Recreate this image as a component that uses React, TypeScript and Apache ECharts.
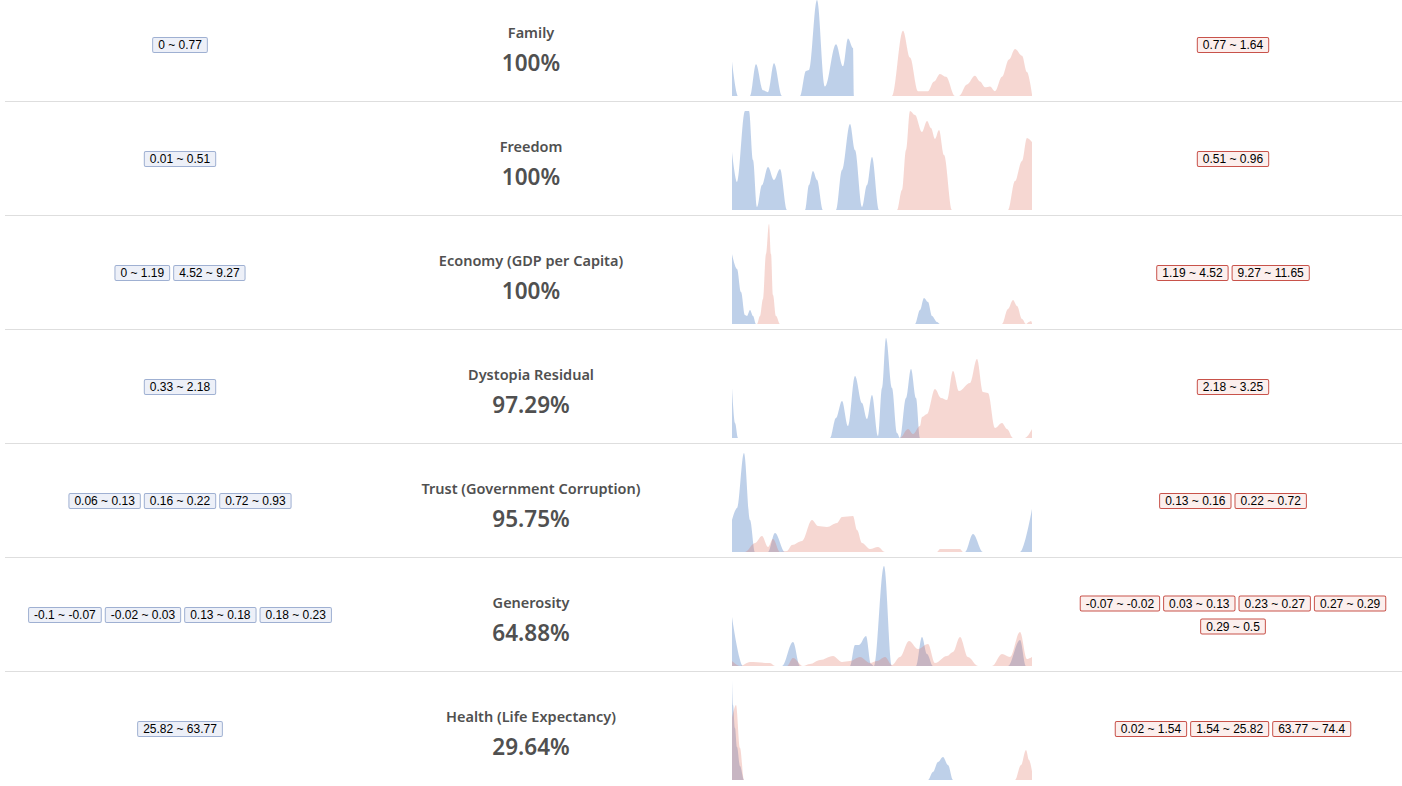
import React, { useEffect, useRef } from "react";
import * as echarts from "echarts";

// ---- data ----
const features = [
  "Family",
  "Freedom",
  "Economy (GDP per Capita)",
  "Dystopia Residual",
  "Trust (Government Corruption)",
  "Generosity",
  "Health (Life Expectancy)",
];
const percents = ["100%", "100%", "100%", "97.29%", "95.75%", "64.88%", "29.64%"];

const leftTags: string[][] = [
  ["0 ~ 0.77"],
  ["0.01 ~ 0.51"],
  ["0 ~ 1.19", "4.52 ~ 9.27"],
  ["0.33 ~ 2.18"],
  ["0.06 ~ 0.13", "0.16 ~ 0.22", "0.72 ~ 0.93"],
  ["-0.1 ~ -0.07", "-0.02 ~ 0.03", "0.13 ~ 0.18", "0.18 ~ 0.23"],
  ["25.82 ~ 63.77"],
];
const rightTags: string[][] = [
  ["0.77 ~ 1.64"],
  ["0.51 ~ 0.96"],
  ["1.19 ~ 4.52", "9.27 ~ 11.65"],
  ["2.18 ~ 3.25"],
  ["0.13 ~ 0.16", "0.22 ~ 0.72"],
  ["-0.07 ~ -0.02", "0.03 ~ 0.13", "0.23 ~ 0.27", "0.27 ~ 0.29", "0.29 ~ 0.5"],
  ["0.02 ~ 1.54", "1.54 ~ 25.82", "63.77 ~ 74.4"],
];

// density curves: [position, density]
const blueDensity: number[][][] = [
  [[0, 36], [6, 0], [18, 0], [24, 33], [31, 6], [36, 4], [42, 34], [50, 0], [68, 0], [74, 26], [77, 27], [85, 100], [93, 10], [104, 54], [111, 31], [116, 60], [121, 50], [122, 0], [300, 0]],
  [[0, 58], [5, 28], [13, 99], [17, 99], [21, 50], [25, 3], [30, 25], [36, 43], [42, 30], [48, 41], [55, 0], [73, 0], [77, 25], [81, 39], [85, 30], [91, 0], [104, 0], [110, 40], [118, 86], [123, 60], [130, 3], [135, 25], [140, 53], [147, 0], [300, 0]],
  [[0, 70], [5, 55], [9, 32], [13, 9], [15, 8], [18, 14], [21, 8], [24, 0], [183, 0], [188, 14], [192, 26], [196, 22], [200, 8], [205, 2], [208, 0], [300, 0]],
  [[0, 50], [3, 15], [6, 0], [98, 0], [104, 20], [110, 37], [116, 12], [123, 62], [130, 35], [135, 19], [140, 43], [146, 2], [150, 50], [154, 100], [160, 50], [165, 5], [168, 0], [174, 40], [179, 69], [184, 40], [188, 0], [300, 0]],
  [[0, 32], [5, 44], [12, 99], [18, 32], [23, 0], [36, 0], [43, 19], [53, 0], [233, 0], [241, 18], [251, 0], [288, 0], [300, 43]],
  [[0, 49], [11, 0], [50, 0], [61, 24], [68, 0], [118, 0], [123, 21], [127, 21], [134, 30], [139, 2], [142, 0], [152, 100], [160, 0], [184, 0], [190, 29], [195, 12], [201, 0], [276, 0], [288, 26], [294, 0], [300, 0]],
  [[0, 100], [1, 75], [3, 52], [5, 33], [8, 14], [12, 0], [196, 0], [201, 8], [206, 18], [211, 23], [216, 15], [221, 0], [300, 0]],
];
const redDensity: number[][][] = [
  [[0, 0], [160, 0], [171, 68], [178, 40], [186, 5], [196, 5], [202, 15], [208, 23], [214, 20], [223, 0], [227, 0], [235, 12], [243, 21], [248, 15], [253, 9], [258, 10], [263, 5], [270, 20], [277, 38], [283, 49], [290, 42], [295, 25], [300, 2]],
  [[0, 0], [165, 0], [170, 20], [174, 60], [178, 99], [183, 95], [190, 78], [195, 89], [199, 82], [203, 71], [207, 80], [212, 55], [220, 0], [276, 0], [283, 29], [290, 49], [295, 72], [300, 68]],
  [[0, 0], [25, 0], [28, 8], [31, 25], [34, 70], [37, 100], [39, 70], [41, 29], [44, 8], [48, 0], [270, 0], [276, 15], [281, 24], [285, 18], [290, 5], [294, 0], [297, 2], [299, 3], [300, 1]],
  [[0, 0], [168, 0], [176, 9], [181, 4], [188, 12], [190, 21], [195, 24], [203, 49], [209, 40], [215, 38], [221, 67], [227, 47], [238, 55], [245, 79], [251, 46], [256, 45], [263, 10], [270, 15], [275, 9], [281, 0], [293, 0], [300, 9]],
  [[0, 0], [13, 0], [23, 9], [30, 16], [36, 5], [41, 13], [48, 0], [55, 1], [60, 7], [70, 11], [80, 32], [86, 26], [95, 25], [105, 29], [110, 35], [121, 36], [125, 22], [130, 9], [138, 3], [146, 5], [153, 0], [205, 0], [208, 3], [228, 3], [231, 0], [300, 0]],
  [[0, 5], [8, 0], [18, 4], [38, 3], [43, 0], [55, 0], [61, 8], [71, 0], [78, 2], [88, 6], [101, 10], [110, 4], [118, 5], [128, 9], [138, 3], [145, 5], [153, 9], [160, 1], [168, 9], [177, 25], [186, 17], [196, 22], [203, 3], [215, 10], [221, 14], [228, 29], [236, 9], [246, 0], [260, 0], [270, 12], [278, 9], [288, 34], [295, 7], [300, 9]],
  [[0, 62], [4, 75], [8, 32], [12, 0], [283, 0], [289, 15], [294, 30], [297, 20], [300, 9]],
];

// ---- styles ----
const ROW_H = 114;
const TEXT_COLOR = "#505050";
const BLUE = "rgba(78,128,196,0.37)";
const RED = "rgba(222,110,95,0.28)";
const TAG_FONT = "12px 'Liberation Sans'";

function measure(text: string): number {
  const c = document.createElement("canvas").getContext("2d");
  if (!c) return text.length * 6;
  c.font = TAG_FONT;
  return c.measureText(text).width;
}

function wrapTags(tags: string[], maxW: number): string[][] {
  const lines: string[][] = [];
  let cur: string[] = [];
  let w = 0;
  tags.forEach((t) => {
    const tw = measure(t) + 12;
    const add = cur.length ? tw + 5 : tw;
    if (cur.length && w + add > maxW) {
      lines.push(cur);
      cur = [t];
      w = tw;
    } else {
      cur.push(t);
      w += add;
    }
  });
  if (cur.length) lines.push(cur);
  return lines;
}

function tagElements(tags: string[], cx: number, cy: number, red: boolean): any[] {
  const lines = wrapTags(tags, 330);
  const n = lines.length;
  return lines.map((line, li) => ({
    type: "text",
    x: cx,
    y: cy + (li - (n - 1) / 2) * 23,
    silent: true,
    style: {
      text: line.map((t) => `{t|${t}}`).join("{g| }"),
      align: "center",
      verticalAlign: "middle",
      rich: {
        t: {
          backgroundColor: red ? "#fcefed" : "#edf0f8",
          borderColor: red ? "#c8524a" : "#9fb0d2",
          borderWidth: 1,
          borderRadius: 1,
          padding: [1, 5, 1, 5],
          fontSize: 12,
          fontFamily: "Liberation Sans",
          color: "#222",
          lineHeight: 13,
        },
        g: { width: 5, fontSize: 12, lineHeight: 13 },
      },
    },
  }));
}

export default function App() {
  const ref = useRef<HTMLDivElement>(null);
  useEffect(() => {
    if (!ref.current) return;
    const chart = echarts.init(ref.current, undefined, { renderer: "svg" });

    const grids: any[] = [];
    const xAxes: any[] = [];
    const yAxes: any[] = [];
    const series: any[] = [];
    const graphics: any[] = [];

    features.forEach((name, i) => {
      grids.push({ left: 732, width: 300, top: ROW_H * i - 4, height: 100 });
      xAxes.push({ type: "value", gridIndex: i, min: 0, max: 300, show: false });
      yAxes.push({ type: "value", gridIndex: i, min: 0, max: 100, show: false });
      [
        { data: blueDensity[i], color: BLUE },
        { data: redDensity[i], color: RED },
      ].forEach((s) => {
        series.push({
          type: "line",
          xAxisIndex: i,
          yAxisIndex: i,
          data: s.data,
          symbol: "none",
          smooth: 0.35,
          smoothMonotone: "x",
          clip: true,
          silent: true,
          lineStyle: { width: 0 },
          areaStyle: { color: s.color, opacity: 1 },
        });
      });

      const rowCenter = 45 + ROW_H * i;
      graphics.push({
        type: "text",
        x: 531,
        y: 32 + ROW_H * i,
        silent: true,
        style: {
          text: name,
          align: "center",
          verticalAlign: "middle",
          fontFamily: "Noto Sans",
          fontWeight: 600,
          fontSize: 14.5,
          fill: TEXT_COLOR,
        },
      });
      graphics.push({
        type: "text",
        x: 531,
        y: 62 + ROW_H * i,
        silent: true,
        style: {
          text: percents[i],
          align: "center",
          verticalAlign: "middle",
          fontFamily: "Noto Sans",
          fontWeight: 600,
          fontSize: 22.5,
          fill: TEXT_COLOR,
        },
      });
      graphics.push(...tagElements(leftTags[i], 180, rowCenter, false));
      graphics.push(...tagElements(rightTags[i], 1233, rowCenter, true));
      if (i < features.length - 1) {
        graphics.push({
          type: "line",
          silent: true,
          shape: { x1: 5, y1: 101.5 + ROW_H * i, x2: 1402, y2: 101.5 + ROW_H * i },
          style: { stroke: "#dedede", lineWidth: 1 },
        });
      }
    });

    chart.setOption({
      animation: false,
      backgroundColor: "#fff",
      grid: grids,
      xAxis: xAxes,
      yAxis: yAxes,
      series,
      graphic: { elements: graphics },
    });
    return () => chart.dispose();
  }, []);

  return (
    <div
      ref={ref}
      style={{ position: "fixed", left: 0, top: 0, width: 1402, height: 786, background: "#fff" }}
    />
  );
}
